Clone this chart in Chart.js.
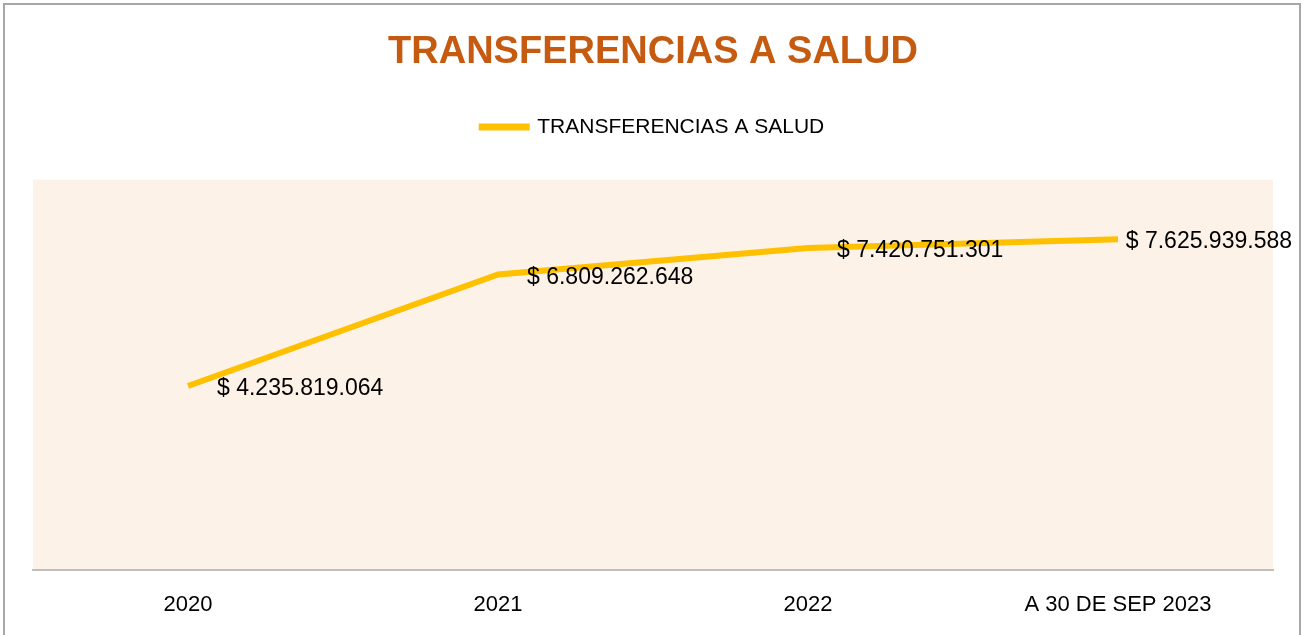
<!DOCTYPE html>
<html>
<head>
<meta charset="utf-8">
<script src="https://cdn.jsdelivr.net/npm/chart.js@4/dist/chart.umd.min.js"></script>
<style>
  html, body { margin: 0; padding: 0; background: #fff; }
  #wrap { position: relative; width: 1307px; height: 635px; }
  #frame { position: absolute; left: 3px; top: 3px; width: 1298px; height: 640px; border: 2px solid #a6a6a6; box-sizing: border-box; pointer-events: none; }
</style>
</head>
<body>
<div id="wrap">
  <canvas id="chart" width="1307" height="635"></canvas>
  <div id="frame"></div>
</div>
<script>
const categories = ['2020', '2021', '2022', 'A 30 DE SEP 2023'];
const transferencias = [4235819064, 6809262648, 7420751301, 7625939588];
const seriesName = 'TRANSFERENCIAS A SALUD';

const FONT = '"Liberation Sans", Arial, sans-serif';

function fmtPesos(v) {
  return '$ ' + String(v).replace(/\B(?=(\d{3})+(?!\d))/g, '.');
}

// peach plot background
const plotBg = {
  id: 'plotBg',
  beforeDraw(chart) {
    const { ctx, chartArea: a } = chart;
    ctx.save();
    ctx.fillStyle = '#fdf2e7';
    ctx.fillRect(a.left, a.top, a.right - a.left, a.bottom - a.top);
    ctx.restore();
  }
};

// data labels to the right of each point, pulled back inside the frame if needed
const valueLabels = {
  id: 'valueLabels',
  afterDatasetsDraw(chart) {
    const { ctx } = chart;
    const meta = chart.getDatasetMeta(0);
    ctx.save();
    ctx.font = '23px ' + FONT;
    ctx.fillStyle = '#000';
    ctx.textBaseline = 'middle';
    ctx.textAlign = 'left';
    meta.data.forEach((pt, i) => {
      const txt = fmtPesos(transferencias[i]);
      const w = ctx.measureText(txt).width;
      const x = Math.min(pt.x + 29, chart.width - 15 - w);
      ctx.fillText(txt, x, pt.y + 3);
    });
    ctx.restore();
  }
};

new Chart(document.getElementById('chart'), {
  type: 'line',
  data: {
    labels: categories,
    datasets: [{
      label: seriesName,
      data: transferencias,
      borderColor: '#FFC000',
      backgroundColor: '#FFC000',
      borderWidth: 6,
      pointRadius: 0,
      tension: 0
    }]
  },
  options: {
    responsive: false,
    animation: false,
    devicePixelRatio: 1,
    layout: { padding: { left: 33, right: 34, top: 20, bottom: 3 } },
    plugins: {
      title: {
        display: true,
        text: seriesName,
        color: '#C55A11',
        font: { family: FONT, size: 38, weight: 'bold' },
        padding: { top: 10, bottom: 0 }
      },
      legend: {
        display: true,
        labels: {
          color: '#000',
          font: { family: FONT, size: 21 },
          boxWidth: 45,
          boxHeight: 1,
          padding: 41
        }
      },
      tooltip: { enabled: false }
    },
    scales: {
      x: {
        offset: true,
        grid: { display: false },
        border: { display: true, color: '#bfbfbf', width: 2 },
        ticks: { color: '#000', font: { family: FONT, size: 22 }, padding: 14, maxRotation: 0 }
      },
      // empty top axis, only used as a spacer between legend and plot
      xTop: {
        position: 'top',
        grid: { display: false },
        border: { display: false },
        ticks: { display: false },
        afterFit(scale) { scale.height = 32; }
      },
      y: {
        display: false,
        min: 0,
        max: 9000000000
      }
    }
  },
  plugins: [plotBg, valueLabels]
});
</script>
</body>
</html>
